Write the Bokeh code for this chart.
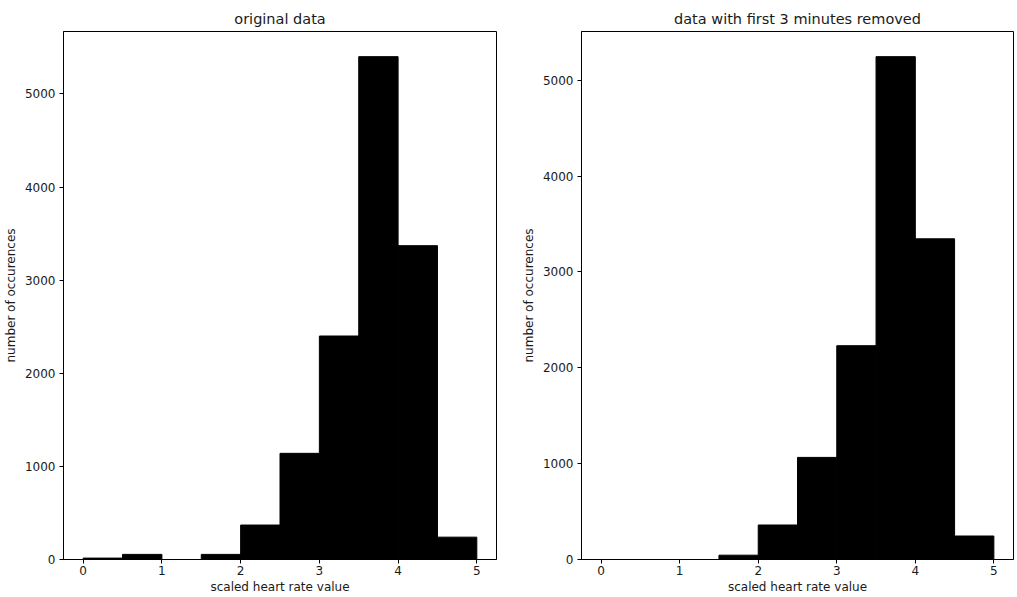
from bokeh.plotting import figure
from bokeh.layouts import row
from bokeh.models import Range1d, FixedTicker
from bokeh.embed import file_html
from bokeh.resources import INLINE

bin_edges = [0.0, 0.5, 1.0, 1.5, 2.0, 2.5, 3.0, 3.5, 4.0, 4.5, 5.0]
counts_original = [15, 55, 0, 55, 370, 1140, 2400, 5400, 3370, 240]
counts_trimmed = [0, 0, 0, 45, 360, 1065, 2230, 5245, 3345, 245]
titles = ["original data", "data with first 3 minutes removed"]
x_label = "scaled heart rate value"
y_label = "number of occurences"
x_ticks = [0, 1, 2, 3, 4, 5]
y_ticks = [0, 1000, 2000, 3000, 4000, 5000]

FONT = "DejaVu Sans"
TXT = "#1a1a1a"


def make_panel(counts, title, width, border_left, border_right):
    ymax = max(counts) * 1.05
    p = figure(width=width, height=597, output_backend="svg", toolbar_location=None,
               x_range=Range1d(-0.25, 5.25), y_range=Range1d(0, ymax),
               min_border_left=border_left, min_border_right=border_right,
               min_border_top=31, min_border_bottom=38)
    p.quad(left=bin_edges[:-1], right=bin_edges[1:], bottom=0, top=counts,
           fill_color="black", line_color="black", line_width=1)
    p.title.text = title
    p.title.align = "center"
    p.title.text_font = FONT
    p.title.text_font_size = "14.5px"
    p.title.text_font_style = "normal"
    p.title.text_color = TXT
    p.title.standoff = 9
    p.xgrid.visible = False
    p.ygrid.visible = False
    p.outline_line_color = "black"
    p.outline_line_alpha = 1
    p.outline_line_width = 1
    p.background_fill_color = "white"
    p.border_fill_color = "white"
    p.xaxis.ticker = FixedTicker(ticks=x_ticks)
    p.yaxis.ticker = FixedTicker(ticks=y_ticks)
    for ax in (p.xaxis[0], p.yaxis[0]):
        ax.axis_line_color = "black"
        ax.major_tick_line_color = "black"
        ax.major_tick_in = 0
        ax.major_tick_out = 4
        ax.minor_tick_line_color = None
        ax.major_label_text_font = FONT
        ax.major_label_text_font_size = "12px"
        ax.major_label_text_color = TXT
        ax.axis_label_text_font = FONT
        ax.axis_label_text_font_size = "12px"
        ax.axis_label_text_font_style = "normal"
        ax.axis_label_text_color = TXT
    p.xaxis.major_label_standoff = 2
    p.xaxis.axis_label_standoff = 2
    p.yaxis.major_label_standoff = 4
    p.yaxis.axis_label_standoff = 4
    p.xaxis.axis_label = x_label
    p.yaxis.axis_label = y_label
    p.yaxis.major_label_orientation = "horizontal"
    return p


p1 = make_panel(counts_original, titles[0], 511, 63, 15)
p2 = make_panel(counts_trimmed, titles[1], 505, 70, 3)
layout = row(p1, p2)

open("out.html", "w").write(file_html(layout, INLINE))
